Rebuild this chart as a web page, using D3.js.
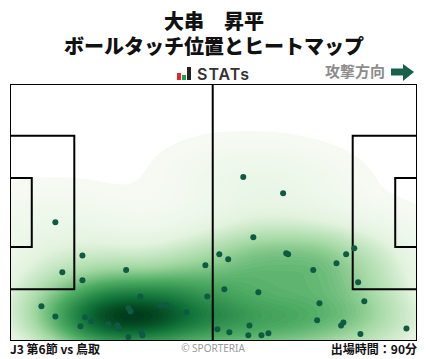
<!DOCTYPE html>
<html>
<head>
<meta charset="utf-8">
<script src="https://cdn.jsdelivr.net/npm/d3@7"></script>
<style>
  html, body { margin: 0; background: #fff; }
  text { font-family: "Noto Sans CJK JP", "Noto Sans", sans-serif; }
</style>
</head>
<body>
<svg id="chart" width="428" height="359"></svg>
<script>
var title_lines = ["大串　昇平", "ボールタッチ位置とヒートマップ"];
var footer_left = "J3 第6節 vs 鳥取";
var footer_right = "出場時間：90分";
var credit = "© SPORTERIA";
var direction_label = "攻撃方向";

// touch positions in metres on a 105 x 68 pitch, y from the top touchline
var touch_x = [11.6, 18.6, 13.4, 18.6, 29.9, 50.4, 50.9, 33.6, 8.0, 11.6, 19.3, 20.9, 18.1,
  25.3, 27.6, 28.1, 30.5, 31.0, 38.7, 40.3, 45.5, 33.8, 34.1, 30.5, 62.8, 54.0, 56.3, 71.3,
  71.8, 86.8, 88.9, 84.3, 78.3, 89.9, 55.3, 64.1, 91.5, 79.9, 79.3, 86.1, 85.5, 102.4, 53.5,
  56.6, 61.8, 61.5, 64.9, 66.7, 90.5, 60.2, 70.5];
var touch_y = [36.6, 45.4, 49.9, 52.0, 49.3, 48.0, 56.3, 56.3, 58.9, 61.6, 61.8, 62.9, 64.2,
  63.7, 64.0, 64.8, 59.4, 60.2, 58.6, 58.6, 60.5, 65.7, 66.6, 67.1, 40.6, 45.1, 46.4, 44.8,
  45.1, 45.1, 43.5, 47.5, 49.3, 52.5, 54.4, 55.2, 57.6, 58.1, 62.6, 63.2, 64.0, 64.8, 65.0,
  65.8, 64.0, 66.6, 66.6, 66.1, 66.3, 24.6, 28.9];

var pitch_lines = [
  [[0, 13.6], [16.5, 13.6], [16.5, 54.4], [0, 54.4]],
  [[0, 24.84], [5.5, 24.84], [5.5, 43.16], [0, 43.16]],
  [[105, 13.6], [88.5, 13.6], [88.5, 54.4], [105, 54.4]],
  [[105, 24.84], [99.5, 24.84], [99.5, 43.16], [105, 43.16]],
  [[52.3, 0], [52.3, 68]]
];

var touches = touch_x.map(function(d, i) { return {"x": d, "y": touch_y[i]}; });

var svg = d3.select("#chart");
var box = {"left": 10.5, "right": 416.5, "top": 84.5, "bottom": 340.5};
var scales = {
  "x": d3.scaleLinear().domain([0, 105]).range([box.left, box.right]),
  "y": d3.scaleLinear().domain([0, 68]).range([box.top, box.bottom])
};

d3.selection.prototype.attrs_ = function(values) {
  var sel = this;
  Object.keys(values).forEach(function(k) { sel.attr(k, values[k]); });
  return sel;
};

function draw_titles() {
  svg.selectAll(".title")
    .data(title_lines).enter()
    .append("text")
    .attr("class", "title")
    .attr("x", 214)
    .attr("y", function(d, i) { return 29 + i * 25; })
    .attr("text-anchor", "middle")
    .style("font-size", "20px")
    .style("font-weight", 900)
    .style("fill", "#111")
    .text(function(d) { return d; });

  // STATs logo
  var logo = svg.append("g");
  logo.append("rect").attrs_({"x": 177, "y": 73, "width": 4, "height": 7, "fill": "#e8242c"});
  logo.append("rect").attrs_({"x": 182, "y": 75, "width": 4, "height": 5, "fill": "#1f9d4c"});
  logo.append("rect").attrs_({"x": 187, "y": 67, "width": 4, "height": 13, "fill": "#222"});
  logo.append("text")
    .attrs_({"x": 197, "y": 79.5})
    .style("font-family", "Inter, sans-serif")
    .style("font-size", "16px")
    .style("font-weight", 600)
    .style("letter-spacing", "1px")
    .style("fill", "#333")
    .text("STATs");

  svg.append("text")
    .attrs_({"x": 385, "y": 77, "text-anchor": "end"})
    .style("font-size", "15px")
    .style("font-weight", 700)
    .style("fill", "#8c8c8c")
    .text(direction_label);

  svg.append("path")
    .attr("d", "M391,68.5H403V64L414,72L403,81V75.5H391Z")
    .attr("fill", "#17614a");
}

function draw_heat() {
  // wider kernel along the pitch than across it
  var squeeze = 2.1;
  var w = box.right - box.left, h = box.bottom - box.top;
  var density = d3.contourDensity()
    .x(function(d) { return (scales.x(d.x) - box.left) / squeeze; })
    .y(function(d) { return scales.y(d.y) - box.top; })
    .size([w / squeeze, h])
    .cellSize(2)
    .bandwidth(23)
    .thresholds(90);
  var contours = density(touches);
  var top = d3.max(contours, function(d) { return d.value; });

  var fill = d3.scaleLinear()
    .domain([0, 0.2, 0.42, 0.62, 0.86, 1])
    .range(["#f7fbf5", "#e3f3df", "#a3d8a3", "#4dab62", "#0f7038", "#013d1c"]);

  var path = d3.geoPath(d3.geoTransform({
    point: function(x, y) {
      this.stream.point(box.left + x * squeeze, box.top + y);
    }
  }));

  svg.append("clipPath").attr("id", "pitch_clip")
    .append("rect")
    .attrs_({"x": box.left, "y": box.top, "width": w, "height": h});

  svg.append("g")
    .attr("clip-path", "url(#pitch_clip)")
    .selectAll("path")
    .data(contours).enter()
    .append("path")
    .attr("d", path)
    .attr("fill", function(d) { return fill(d.value / top); });
}

function draw_pitch() {
  var line = d3.line()
    .x(function(d) { return scales.x(d[0]); })
    .y(function(d) { return scales.y(d[1]); });

  svg.selectAll(".pitch_line")
    .data(pitch_lines).enter()
    .append("path")
    .attr("class", "pitch_line")
    .attr("d", line)
    .attr("fill", "none")
    .attr("stroke", "#000")
    .attr("stroke-width", 2);

  svg.append("rect")
    .attrs_({"x": box.left, "y": box.top, "width": box.right - box.left, "height": box.bottom - box.top})
    .attr("fill", "none")
    .attr("stroke", "#000")
    .attr("stroke-width", 1);
}

function draw_touches() {
  svg.selectAll(".touch")
    .data(touches).enter()
    .append("circle")
    .attr("class", "touch")
    .attr("cx", function(d) { return scales.x(d.x); })
    .attr("cy", function(d) { return scales.y(d.y); })
    .attr("r", 3)
    .attr("fill", "#0f5a43");
}

function draw_footer() {
  svg.append("text")
    .attrs_({"x": 10, "y": 354})
    .style("font-size", "12px")
    .style("font-weight", 700)
    .style("fill", "#111")
    .text(footer_left);
  svg.append("text")
    .attrs_({"x": 417, "y": 354, "text-anchor": "end"})
    .style("font-size", "12px")
    .style("font-weight", 700)
    .style("fill", "#111")
    .text(footer_right);
  svg.append("text")
    .attrs_({"x": 213, "y": 352, "text-anchor": "middle"})
    .style("font-size", "10px")
    .style("font-family", "'Noto Sans', sans-serif")
    .style("fill", "#999")
    .text(credit);
}

draw_titles();
draw_heat();
draw_pitch();
draw_touches();
draw_footer();
</script>
</body>
</html>
